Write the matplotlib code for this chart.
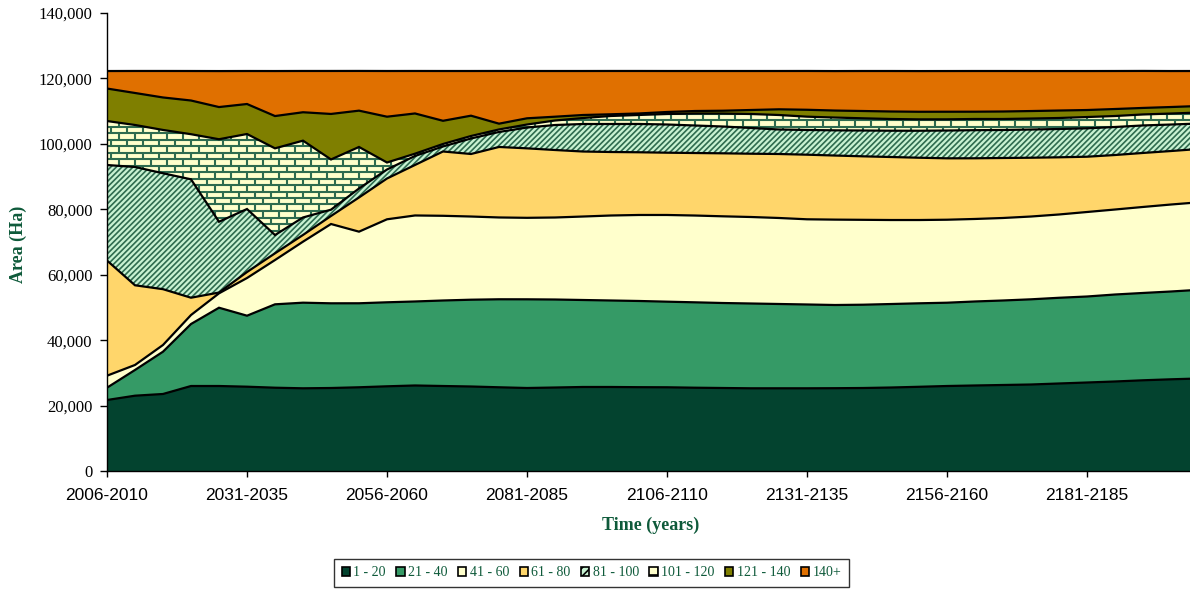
import numpy as np
import matplotlib
matplotlib.use('Agg')
import matplotlib.pyplot as plt
from matplotlib.patches import Patch
from matplotlib.collections import LineCollection
from matplotlib.ticker import FuncFormatter

matplotlib.rcParams['hatch.linewidth'] = 1.2

# 5-year periods, 2006-2010 .. 2201-2205
periods = [f'{y}-{y + 4}' for y in range(2006, 2206, 5)]

# area (ha) per age class
age_1_20 = [21700, 23020, 23540, 25980, 25980, 25770, 25460, 25280, 25370, 25590,
            25890, 26140, 25980, 25830, 25590, 25370, 25520, 25680, 25680, 25620,
            25590, 25460, 25370, 25280, 25280, 25280, 25310, 25370, 25520, 25740,
            25980, 26140, 26290, 26440, 26750, 27050, 27360, 27730, 28030, 28280]
age_21_40 = [3760, 7860, 12930, 18950, 23930, 21700, 25490, 26170, 25890, 25680,
             25680, 25680, 26140, 26530, 26900, 27110, 26900, 26590, 26440, 26350,
             26170, 26100, 25980, 25920, 25770, 25620, 25430, 25460, 25520, 25520,
             25460, 25680, 25830, 26040, 26200, 26290, 26590, 26690, 26840, 27110]
age_41_60 = [3670, 1530, 2050, 2750, 4400, 11520, 13540, 18650, 24240, 21890,
             25370, 26290, 25890, 25430, 25010, 24910, 25070, 25520, 25980, 26290,
             26500, 26530, 26500, 26440, 26290, 26040, 26100, 25950, 25680, 25460,
             25370, 25220, 25220, 25310, 25460, 25830, 25980, 26290, 26590, 26750]
age_61_80 = [35210, 24360, 17060, 5290, 240, 1830, 2050, 2050, 2450, 10450,
             12470, 15440, 19660, 19110, 21550, 21240, 20630, 19870, 19410, 19170,
             19040, 19110, 19260, 19350, 19560, 19750, 19590, 19410, 19260, 19040,
             18770, 18550, 18340, 17970, 17480, 16900, 16660, 16510, 16350, 16290]
age_81_100 = [29190, 36160, 35430, 36190, 21640, 19260, 5590, 5350, 1930, 2750,
              2750, 2750, 1530, 4740, 4590, 6360, 7640, 8410, 8560, 8650,
              8620, 8410, 8190, 7860, 7490, 7550, 7700, 7890, 8040, 8250,
              8500, 8590, 8560, 8620, 8650, 8680, 8560, 8410, 8100, 7790]
age_101_120 = [13450, 12840, 13240, 13790, 25220, 22930, 26500, 23480, 15350, 12690,
               2140, 700, 760, 760, 760, 920, 1380, 1830, 2450, 2750,
               3210, 3670, 3970, 4280, 4430, 4070, 3910, 3730, 3580, 3480,
               3420, 3420, 3360, 3360, 3360, 3450, 3360, 3360, 3360, 3360]
age_121_140 = [9930, 9780, 9930, 10300, 9840, 9170, 9870, 8680, 13910, 11100,
               14000, 12290, 7090, 6210, 1770, 1900, 1160, 920, 520, 460,
               610, 760, 860, 1220, 1740, 2110, 2140, 2230, 2290, 2320,
               2320, 2230, 2290, 2290, 2290, 2140, 2140, 1990, 1990, 1990]
age_140_plus = [5350, 6730, 8100, 9020, 11000, 10090, 13760, 12620, 13140, 12140,
                13970, 12990, 15220, 13660, 16110, 14460, 13970, 13450, 13240, 12990,
                12530, 12230, 12140, 11920, 11710, 11860, 12070, 12230, 12380, 12440,
                12440, 12440, 12380, 12230, 12070, 11920, 11620, 11310, 11000, 10700]

labels = ['1 - 20', '21 - 40', '41 - 60', '61 - 80', '81 - 100',
          '101 - 120', '121 - 140', '140+']
series = [age_1_20, age_21_40, age_41_60, age_61_80, age_81_100,
          age_101_120, age_121_140, age_140_plus]
colors = ['#03432F', '#359A66', '#FFFFCC', '#FFD66B', '#C8F2D2',
          '#FFFFCC', '#7F7F00', '#E07000']
hatch_green = '#2E6B4F'
text_green = '#0E5A3A'

fig = plt.figure(figsize=(11.9, 5.92), dpi=100)
ax = fig.add_axes([107 / 1190, 121 / 592, 1083 / 1190, 458 / 592])

x = np.arange(len(periods))
bottom = np.zeros(len(periods))
tops = []
for i, vals in enumerate(series):
    top = bottom + np.array(vals)
    if labels[i] == '81 - 100':
        ax.fill_between(x, bottom, top, facecolor=colors[i], edgecolor=hatch_green,
                        hatch='//////', linewidth=0, zorder=1)
    elif labels[i] == '101 - 120':
        poly = ax.fill_between(x, bottom, top, facecolor=colors[i], linewidth=0, zorder=1)
        # brick pattern, clipped to the band
        px_x = 1 / 28
        px_y = 140000 / 458
        hy = 6.5 * px_y
        wx = 16 * px_x
        segs = []
        for k, y0 in enumerate(np.arange(0, 140000, hy)):
            segs.append([(-1, y0), (41, y0)])
            off = (k % 2) * wx / 2
            for xv in np.arange(-1 + off, 41, wx):
                segs.append([(xv, y0), (xv, y0 + hy)])
        lc = LineCollection(segs, colors=hatch_green, linewidths=1.5, zorder=1.5)
        lc.set_clip_path(poly.get_paths()[0], ax.transData)
        ax.add_collection(lc)
    else:
        ax.fill_between(x, bottom, top, facecolor=colors[i], linewidth=0, zorder=1)
    tops.append(top)
    bottom = top

for top in tops:
    ax.plot(x, top, color='black', linewidth=1.6, zorder=3, solid_joinstyle='miter')

ax.set_xlim(0, 1083 / 28)
ax.set_ylim(0, 140000)
ax.set_yticks(np.arange(0, 140001, 20000))
ax.yaxis.set_major_formatter(FuncFormatter(lambda v, p: f'{int(v):,}'))
ax.set_xticks(x[::5])
ax.set_xticklabels(periods[::5], fontfamily='Liberation Sans', fontsize=12.5)
for lab in ax.get_yticklabels():
    lab.set_fontfamily('Liberation Serif')
    lab.set_fontsize(12)
ax.tick_params(axis='y', direction='out', length=5, width=1, pad=5.5)
ax.tick_params(axis='x', direction='out', length=4.5, width=1, pad=7.5)

for s in ['top', 'right']:
    ax.spines[s].set_visible(False)
for s in ['left', 'bottom']:
    ax.spines[s].set_color('black')
    ax.spines[s].set_linewidth(1)

ax.set_xlabel('Time (years)', fontfamily='Liberation Serif', fontweight='bold',
              fontsize=13, color=text_green, va='center')
ax.xaxis.set_label_coords(0.502, (471 - 525) / 458)
ax.set_ylabel('Area (Ha)', fontfamily='Liberation Serif', fontweight='bold',
              fontsize=13, color=text_green, va='center')
ax.yaxis.set_label_coords((18.5 - 107) / 1083, (471 - 244.5) / 458)

hatches = [None, None, None, None, '////', '+', None, None]
handles = [Patch(facecolor=colors[i], edgecolor='black', hatch=hatches[i], linewidth=1.2)
           for i in range(len(labels))]
leg = fig.legend(handles, labels, loc='center', bbox_to_anchor=(591.5 / 1190, 19 / 592),
                 ncol=8, frameon=True, fancybox=False, edgecolor='black',
                 prop={'family': 'Liberation Serif', 'size': 10}, labelcolor=text_green,
                 handlelength=0.6, handleheight=0.6, handletextpad=0.25,
                 columnspacing=0.75, borderpad=0.55, borderaxespad=0)
leg.get_frame().set_linewidth(1)

fig.savefig('out.png', dpi=100)
